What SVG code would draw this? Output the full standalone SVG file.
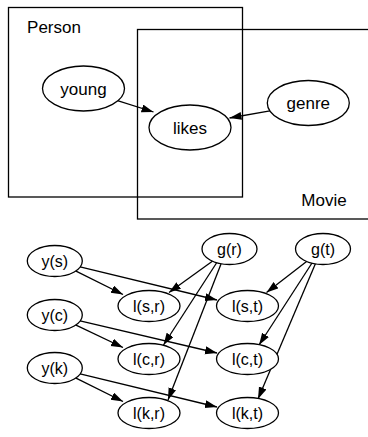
<svg xmlns="http://www.w3.org/2000/svg" width="368" height="437" viewBox="0 0 368 437">
  <style>
    .plate { fill: none; stroke: #000; stroke-width: 1.3; }
    .node ellipse { fill: #fff; stroke: #000; stroke-width: 1.3; }
    .lbl { font-family: "Liberation Sans", Arial, Helvetica, sans-serif; fill: #000; text-anchor: middle; }
    .big { font-size: 17px; }
    .small { font-size: 16px; }
    .edges line { stroke: #000; stroke-width: 1.3; marker-end: url(#arrow); }
  </style>
  <defs>
    <marker id="arrow" markerUnits="userSpaceOnUse" markerWidth="13" markerHeight="9" refX="12" refY="4" orient="auto">
      <path d="M0,0 L12,4 L0,8 z" fill="#000"/>
    </marker>
  </defs>
  <rect width="368" height="437" fill="#fff"/>

  <!-- plates -->
  <g id="plate-person">
    <rect class="plate" x="8.5" y="7.5" width="234" height="189.5"/>
    <text class="lbl big" x="54" y="32.5">Person</text>
  </g>
  <g id="plate-movie">
    <rect class="plate" x="137.5" y="29.5" width="240" height="189.5"/>
    <text class="lbl big" x="324" y="206">Movie</text>
  </g>

  <!-- connectors -->
  <g class="edges" id="edges">
    <line x1="117.5" y1="100.6" x2="153.5" y2="112"/>
    <line x1="269.9" y1="110.9" x2="229.5" y2="118"/>

    <line x1="75.5" y1="270.9" x2="123" y2="294.5"/>
    <line x1="80.1" y1="266.9" x2="217" y2="300"/>
    <line x1="75.5" y1="324.9" x2="123" y2="347.5"/>
    <line x1="80.1" y1="320.9" x2="217" y2="353"/>
    <line x1="75.5" y1="377.9" x2="123" y2="401.5"/>
    <line x1="80.1" y1="373.9" x2="217" y2="407"/>

    <line x1="212.7" y1="261" x2="169" y2="292.5"/>
    <line x1="216.5" y1="263" x2="163.5" y2="345"/>
    <line x1="221" y1="264" x2="168" y2="400"/>
    <line x1="306.9" y1="261.2" x2="266.5" y2="292.5"/>
    <line x1="312" y1="263" x2="259" y2="345"/>
    <line x1="315.5" y1="263.5" x2="258" y2="399"/>
  </g>

  <!-- nodes: upper model -->
  <g id="young" class="node">
    <ellipse cx="83.5" cy="88.5" rx="41" ry="22.5"/>
    <text class="lbl big" x="83.5" y="94.5">young</text>
  </g>
  <g id="likes" class="node">
    <ellipse cx="190" cy="127.5" rx="41" ry="22.5"/>
    <text class="lbl big" x="190" y="133.5">likes</text>
  </g>
  <g id="genre" class="node">
    <ellipse cx="308.3" cy="103" rx="41" ry="22.5"/>
    <text class="lbl big" x="308.3" y="109">genre</text>
  </g>

  <!-- nodes: unrolled model -->
  <g id="y_s" class="node">
    <ellipse cx="54.8" cy="261" rx="27.5" ry="15.5"/>
    <text class="lbl small" x="54.8" y="266.5">y(s)</text>
  </g>
  <g id="y_c" class="node">
    <ellipse cx="54.8" cy="315" rx="27.5" ry="15.5"/>
    <text class="lbl small" x="54.8" y="320.5">y(c)</text>
  </g>
  <g id="y_k" class="node">
    <ellipse cx="54.8" cy="368" rx="27.5" ry="15.5"/>
    <text class="lbl small" x="54.8" y="373.5">y(k)</text>
  </g>
  <g id="g_r" class="node">
    <ellipse cx="229.5" cy="249" rx="27.5" ry="15.5"/>
    <text class="lbl small" x="229.5" y="254.5">g(r)</text>
  </g>
  <g id="g_t" class="node">
    <ellipse cx="323" cy="249" rx="27.5" ry="15.5"/>
    <text class="lbl small" x="323" y="254.5">g(t)</text>
  </g>
  <g id="l_s_r" class="node">
    <ellipse cx="149" cy="306" rx="31" ry="15.5"/>
    <text class="lbl small" x="149" y="311.5">l(s,r)</text>
  </g>
  <g id="l_c_r" class="node">
    <ellipse cx="149" cy="359" rx="31" ry="15.5"/>
    <text class="lbl small" x="149" y="364.5">l(c,r)</text>
  </g>
  <g id="l_k_r" class="node">
    <ellipse cx="149" cy="413" rx="31" ry="15.5"/>
    <text class="lbl small" x="149" y="418.5">l(k,r)</text>
  </g>
  <g id="l_s_t" class="node">
    <ellipse cx="247.5" cy="306" rx="31" ry="15.5"/>
    <text class="lbl small" x="247.5" y="311.5">l(s,t)</text>
  </g>
  <g id="l_c_t" class="node">
    <ellipse cx="247.5" cy="359" rx="31" ry="15.5"/>
    <text class="lbl small" x="247.5" y="364.5">l(c,t)</text>
  </g>
  <g id="l_k_t" class="node">
    <ellipse cx="247.5" cy="413" rx="31" ry="15.5"/>
    <text class="lbl small" x="247.5" y="418.5">l(k,t)</text>
  </g>
</svg>
